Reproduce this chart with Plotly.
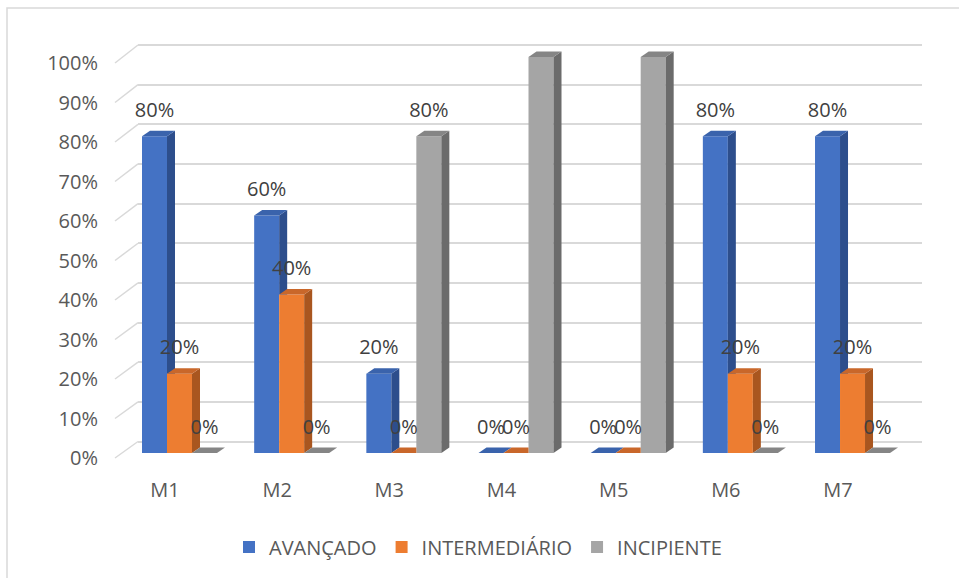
import plotly.graph_objects as go

# ---------------- data ----------------
categories = ["M1", "M2", "M3", "M4", "M5", "M6", "M7"]
avancado = [0.8, 0.6, 0.2, 0.0, 0.0, 0.8, 0.8]
intermediario = [0.2, 0.4, 0.0, 0.0, 0.0, 0.2, 0.2]
incipiente = [0.0, 0.0, 0.8, 1.0, 1.0, 0.0, 0.0]
series_names = ["AVANÇADO", "INTERMEDIÁRIO", "INCIPIENTE"]
y_ticks = [i / 10 for i in range(11)]
y_tick_text = [f"{i*10}%" for i in range(11)]

# ---------------- styles ----------------
front_cols = ["#4472C4", "#ED7D31", "#A5A5A5"]
side_cols = ["#2D4E8C", "#A9561F", "#6B6B6B"]
top_cols = ["#3A63AC", "#C9672A", "#858585"]
FONT = "Open Sans"
TXT = "#595959"
LBL = "#404040"

W, H = 959, 578
L, R, T, B = 98, 922, 40, 460          # plot area in pixels
pw, ph = R - L, B - T
wall_left = 138                          # back wall left edge (px)
x_first, x_step = 165.0, 112.17          # pixel of category 0, px per category
py_unit = 396.0                          # px per 100%
bar_zero = 453.0                         # pixel of 0 for bars
lab_zero, lab_unit = 458.0, 395.0        # tick-label axis
grid_zero, grid_unit = 441.5, 396.5      # back-wall grid axis

bar_w = 25 / x_step
dx = 8 / x_step
dy = 5.5 / py_unit
shifts = [(142 + 12.5 - x_first) / x_step + k * bar_w for k in range(3)]

x_range = [(wall_left - x_first) / x_step, (R - x_first) / x_step]
y_range = [(bar_zero - B) / py_unit, (bar_zero - T) / py_unit]
y2_range = [(lab_zero - B) / lab_unit, (lab_zero - T) / lab_unit]
y3_range = [(grid_zero - B) / grid_unit, (grid_zero - T) / grid_unit]

data = [avancado, intermediario, incipiente]
idx = list(range(len(categories)))

fig = go.Figure()

# front faces (bars)
for s in range(3):
    fig.add_trace(go.Bar(
        x=[i + shifts[s] for i in idx], y=data[s], width=bar_w,
        marker=dict(color=front_cols[s], line=dict(width=0)),
        name=series_names[s], hoverinfo="skip",
    ))

# side and top faces
for i in idx:
    for s in range(3):
        v = data[s][i]
        c = i + shifts[s]
        xl, xr = c - bar_w / 2, c + bar_w / 2
        nxt = data[s + 1][i] if s < 2 else None
        lo = 0.0 if nxt is None else nxt
        if v > lo:
            if lo <= 0:
                xs = [xr, xr + dx, xr + dx, xr, xr]
                ys = [0, dy, v + dy, v, 0]
            else:
                xs = [xr, xr + dx, xr + dx, xr, xr]
                ys = [lo, lo, v + dy, v, lo]
            fig.add_trace(go.Scatter(x=xs, y=ys, fill="toself", mode="lines",
                                     line=dict(width=0), fillcolor=side_cols[s],
                                     showlegend=False, hoverinfo="skip"))
        if nxt is not None and nxt > v + dy:
            xs = [xl, xl + dx, xr, xr, xl]
            ys = [v, v + dy, v + dy, v, v]
        else:
            xs = [xl, xl + dx, xr + dx, xr, xl]
            ys = [v, v + dy, v + dy, v, v]
        fig.add_trace(go.Scatter(x=xs, y=ys, fill="toself", mode="lines",
                                 line=dict(width=0), fillcolor=top_cols[s],
                                 showlegend=False, hoverinfo="skip"))

# data labels
off = 24.5 / py_unit
for s in range(3):
    fig.add_trace(go.Scatter(
        x=[i + shifts[s] for i in idx], y=[v + off for v in data[s]],
        mode="text", text=[f"{round(v*100)}%" for v in data[s]],
        textposition="middle center",
        textfont=dict(family=FONT, size=20, color=LBL),
        showlegend=False, hoverinfo="skip", cliponaxis=False,
    ))

# helper traces for overlay axes
fig.add_trace(go.Scatter(x=[0], y=[0.5], yaxis="y2", mode="markers",
                         marker=dict(opacity=0), showlegend=False, hoverinfo="skip"))
fig.add_trace(go.Scatter(x=[0], y=[0.5], yaxis="y3", mode="markers",
                         marker=dict(opacity=0), showlegend=False, hoverinfo="skip"))

# left diagonal grid connectors
shapes = []
px0 = (115 - L) / pw
px1 = (wall_left - L) / pw
for v in y_ticks:
    yf = (bar_zero - (lab_zero - lab_unit * v)) / py_unit
    yb = (bar_zero - (grid_zero - grid_unit * v)) / py_unit
    shapes.append(dict(type="line", xref="paper", yref="y", x0=px0, x1=px1,
                       y0=yf, y1=yb, line=dict(color="#D9D9D9", width=1.5),
                       layer="below"))
# outer frame
shapes.append(dict(type="rect", xref="paper", yref="paper",
                   x0=(7 - L) / pw, x1=(W + 20 - L) / pw,
                   y0=(B - (H + 20)) / ph, y1=(B - 8) / ph,
                   line=dict(color="#D9D9D9", width=1.5), layer="below"))

fig.update_layout(
    width=W, height=H,
    margin=dict(l=L, r=W - R, t=T, b=H - B),
    paper_bgcolor="white", plot_bgcolor="rgba(0,0,0,0)",
    barmode="overlay",
    font=dict(family=FONT, color=TXT, size=20),
    showlegend=True,
    legend=dict(orientation="h", x=(478 - L) / pw, xanchor="center",
                y=(B - 547) / ph, yanchor="middle",
                font=dict(family=FONT, size=20, color=TXT),
                itemwidth=30, tracegroupgap=0),
    xaxis=dict(range=x_range, domain=[(wall_left - L) / pw, 1],
               tickmode="array", tickvals=idx, ticktext=categories,
               showgrid=False, zeroline=False, showline=False,
               ticks="", ticklabelstandoff=16,
               tickfont=dict(family=FONT, size=20, color=TXT)),
    yaxis=dict(range=y_range, showgrid=False, zeroline=False,
               showticklabels=False, showline=False, ticks=""),
    yaxis2=dict(range=y2_range, overlaying="y", anchor="free", position=0,
                tickmode="array", tickvals=y_ticks, ticktext=y_tick_text,
                showgrid=False, zeroline=False, showline=False, ticks="",
                tickfont=dict(family=FONT, size=20, color=TXT)),
    yaxis3=dict(range=y3_range, overlaying="y", anchor="x",
                tickmode="array", tickvals=y_ticks, showticklabels=False,
                showgrid=True, gridcolor="#D9D9D9", gridwidth=1.5,
                zeroline=False, showline=False, ticks=""),
    shapes=shapes,
)

fig.write_html("out.html")
